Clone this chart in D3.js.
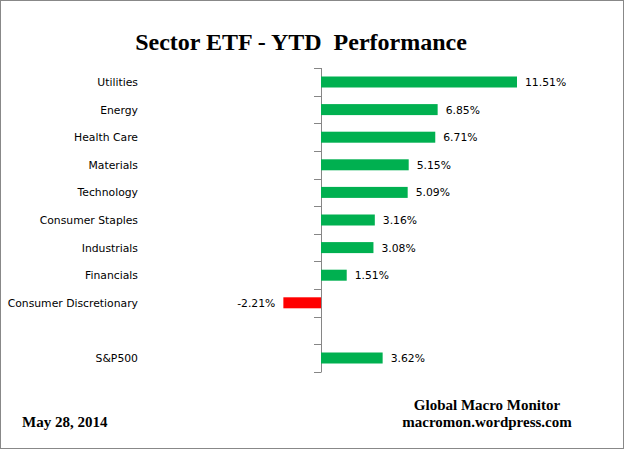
<!DOCTYPE html>
<html><head><meta charset="utf-8">
<script src="https://cdn.jsdelivr.net/npm/d3@7"></script>
<style>body{margin:0;background:#fff}svg{display:block}</style>
</head><body><svg id="c" width="625" height="450"></svg>
<script>
const categories = ["Utilities","Energy","Health Care","Materials","Technology","Consumer Staples","Industrials","Financials","Consumer Discretionary","","S&P500"];
const values = [11.51,6.85,6.71,5.15,5.09,3.16,3.08,1.51,-2.21,null,3.62];
const valueLabels = ["11.51%","6.85%","6.71%","5.15%","5.09%","3.16%","3.08%","1.51%","-2.21%","","3.62%"];
const title = "Sector ETF - YTD  Performance";
const dateText = "May 28, 2014";
const sourceLines = ["Global Macro Monitor","macromon.wordpress.com"];

const svg = d3.select("#c");
svg.append("rect").attr("x",0.5).attr("y",0.5).attr("width",623).attr("height",448)
  .attr("fill","#fff").attr("stroke","#888").attr("stroke-width",1);

const x = d3.scaleLinear().domain([0, 11.51]).range([321, 517]);
const keys = categories.map((c,i)=>i);
const yb = d3.scaleBand().domain(keys).range([68.2, 371.8]);

const g = svg.append("g");
g.append("line").attr("x1",x(0)+0.5).attr("x2",x(0)+0.5).attr("y1",68).attr("y2",372).attr("stroke","#868686");
const bounds = keys.map(k=>yb(k)).concat([yb(keys[keys.length-1])+yb.bandwidth()]);
g.selectAll(".tk").data(bounds).join("line")
  .attr("x1",x(0)-7).attr("x2",x(0)+0.5)
  .attr("y1",d=>Math.round(d)+0.5).attr("y2",d=>Math.round(d)+0.5)
  .attr("stroke","#868686");

const data = keys.filter(k=>values[k]!==null);
g.selectAll(".bar").data(data).join("rect")
  .attr("x",k=>x(Math.min(0,values[k])))
  .attr("width",k=>Math.abs(x(values[k])-x(0)))
  .attr("y",k=>yb(k)+yb.bandwidth()/2-5.5)
  .attr("height",11)
  .attr("fill",k=>values[k]<0?"#FF0000":"#00B050");

const fontCat = "Tahoma, 'DejaVu Sans', sans-serif";
g.selectAll(".cat").data(keys.filter(k=>categories[k])).join("text")
  .attr("x",138).attr("y",k=>yb(k)+yb.bandwidth()/2+4)
  .attr("text-anchor","end").attr("font-family",fontCat).attr("font-size",10.8)
  .attr("fill","#000").text(k=>categories[k]);

g.selectAll(".val").data(data).join("text")
  .attr("x",k=>values[k]<0?x(values[k])-8:x(values[k])+8)
  .attr("y",k=>yb(k)+yb.bandwidth()/2+4)
  .attr("text-anchor",k=>values[k]<0?"end":"start")
  .attr("font-family",fontCat).attr("font-size",10.8)
  .attr("fill","#000").text(k=>valueLabels[k]);

svg.append("text").attr("x",301).attr("y",50).attr("text-anchor","middle")
  .attr("font-family","'Liberation Serif','Times New Roman',serif").attr("font-weight","bold")
  .attr("font-size",24).style("white-space","pre").text(title);

svg.append("text").attr("x",22).attr("y",427)
  .attr("font-family","'Liberation Serif','Times New Roman',serif").attr("font-weight","bold")
  .attr("font-size",15).text(dateText);

svg.selectAll(".src").data(sourceLines).join("text")
  .attr("x",487).attr("y",(d,i)=>410+i*17).attr("text-anchor","middle")
  .attr("font-family","'Liberation Serif','Times New Roman',serif").attr("font-weight","bold")
  .attr("font-size",15).text(d=>d);
</script></body></html>
